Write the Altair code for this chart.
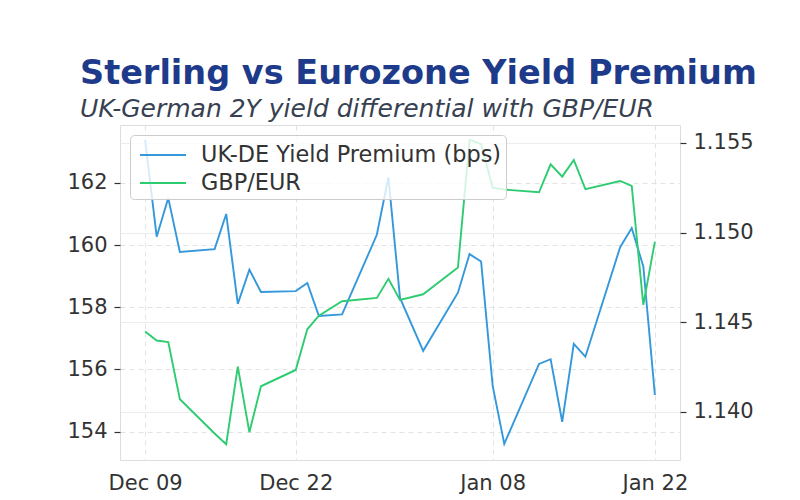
import altair as alt
import pandas as pd

dates = ["2025-12-09", "2025-12-10", "2025-12-11", "2025-12-12", "2025-12-15",
         "2025-12-16", "2025-12-17", "2025-12-18", "2025-12-19", "2025-12-22",
         "2025-12-23", "2025-12-24", "2025-12-26", "2025-12-29", "2025-12-30",
         "2025-12-31", "2026-01-02", "2026-01-05", "2026-01-06", "2026-01-07",
         "2026-01-08", "2026-01-09", "2026-01-12", "2026-01-13", "2026-01-14",
         "2026-01-15", "2026-01-16", "2026-01-19", "2026-01-20", "2026-01-21",
         "2026-01-22"]
premium_bps = [163.38, 160.27, 161.51, 159.78, 159.87, 161.0, 158.11, 159.21, 158.49, 158.52,
               158.78, 157.72, 157.77, 160.33, 162.18, 158.3, 156.6, 158.47, 159.71, 159.47,
               155.47, 153.61, 156.18, 156.33, 154.32, 156.82, 156.41, 159.93, 160.55, 159.31,
               155.18]
gbp_eur = [1.14448, 1.14398, 1.14390, 1.14071, 1.1388, 1.1382, 1.14253, 1.13887, 1.14143, 1.14234,
           1.14461, 1.14537, 1.14617, 1.14636, 1.14742, 1.14625, 1.14656, 1.14805, 1.15517, 1.15494,
           1.15251, 1.1524, 1.15225, 1.15381, 1.15312, 1.15405, 1.15242, 1.15288, 1.1526, 1.14597,
           1.1495]
series_names = ["UK-DE Yield Premium (bps)", "GBP/EUR"]
series_colors = ["#3498db", "#2ecc71"]
left_ticks = [154, 156, 158, 160, 162]
right_ticks = [1.140, 1.145, 1.150, 1.155]

df = pd.DataFrame({"date": dates, "premium": premium_bps, "fx": gbp_eur})
df["s1"] = series_names[0]
df["s2"] = series_names[1]

FONT = "DejaVu Sans"
LBL = 21
LW = 1.9
x_enc = alt.X(
    "date:T",
    scale=alt.Scale(type="utc", domain=["2025-12-06T20:00:00Z", "2026-01-24T04:00:00Z"]),
    axis=alt.Axis(
        title=None, format="%b %d",
        values=[alt.DateTime(year=2025, month=12, date=9, utc=True),
                alt.DateTime(year=2025, month=12, date=22, utc=True),
                alt.DateTime(year=2026, month=1, date=8, utc=True),
                alt.DateTime(year=2026, month=1, date=22, utc=True)],
        ticks=False, domain=False, labelPadding=12, labelFontSize=LBL, labelColor="#333333",
        labelFont=FONT, grid=True, gridDash=[5, 4], gridColor="#e3e3e3", gridWidth=1,
    ),
)
color_scale = alt.Scale(domain=series_names, range=series_colors)
legend = alt.Legend(
    title=None, orient="top-left", offset=10, symbolType="M-0.667,0H2.4", symbolSize=900,
    symbolStrokeWidth=LW, labelFontSize=22.4, labelFont=FONT, labelColor="#333333",
    labelOffset=35, labelLimit=0, fillColor="rgba(255,255,255,0.8)", strokeColor="#cccccc",
    cornerRadius=4, padding=4, rowPadding=0,
)

blue = alt.Chart(df).mark_line(strokeWidth=LW).encode(
    x=x_enc,
    y=alt.Y("premium:Q", scale=alt.Scale(domain=[153.09, 163.86], nice=False, zero=False),
            axis=alt.Axis(title=None, values=left_ticks, orient="left", domain=False,
                          tickSize=6, tickColor="#333333", tickWidth=1.2, labelPadding=7,
                          labelFontSize=LBL, labelFont=FONT, labelColor="#333333",
                          grid=True, gridDash=[5, 4], gridColor="#e3e3e3")),
    color=alt.Color("s1:N", scale=color_scale, legend=legend),
)
green = alt.Chart(df).mark_line(strokeWidth=LW).encode(
    x=x_enc,
    y=alt.Y("fx:Q", scale=alt.Scale(domain=[1.13732, 1.156], nice=False, zero=False),
            axis=alt.Axis(title=None, values=right_ticks, orient="right", format=".3f",
                          domain=False, tickSize=6, tickColor="#333333", tickWidth=1.2,
                          labelPadding=7, labelFontSize=LBL, labelFont=FONT,
                          labelColor="#333333", grid=True, gridColor="#ececec")),
    color=alt.Color("s2:N", scale=color_scale, legend=legend),
)

chart = alt.layer(blue, green).resolve_scale(y="independent").properties(
    width=560, height=335,
    autosize=alt.AutoSizeParams(type="none"),
    padding={"left": 120, "top": 125, "right": 120, "bottom": 40},
    title=alt.TitleParams(
        text="Sterling vs Eurozone Yield Premium",
        subtitle="UK-German 2Y yield differential with GBP/EUR",
        anchor="start", frame="group", dx=-40, offset=2,
        font=FONT, fontSize=33.5, fontWeight="bold", color="#1e3a8a",
        subtitleFont=FONT, subtitleFontSize=25, subtitleFontStyle="italic",
        subtitleColor="#374151", subtitlePadding=6,
    ),
).configure_view(stroke="#cccccc", strokeWidth=2).configure(background="white")

chart.save("out.html", embed_options={"renderer": "svg", "actions": False})
